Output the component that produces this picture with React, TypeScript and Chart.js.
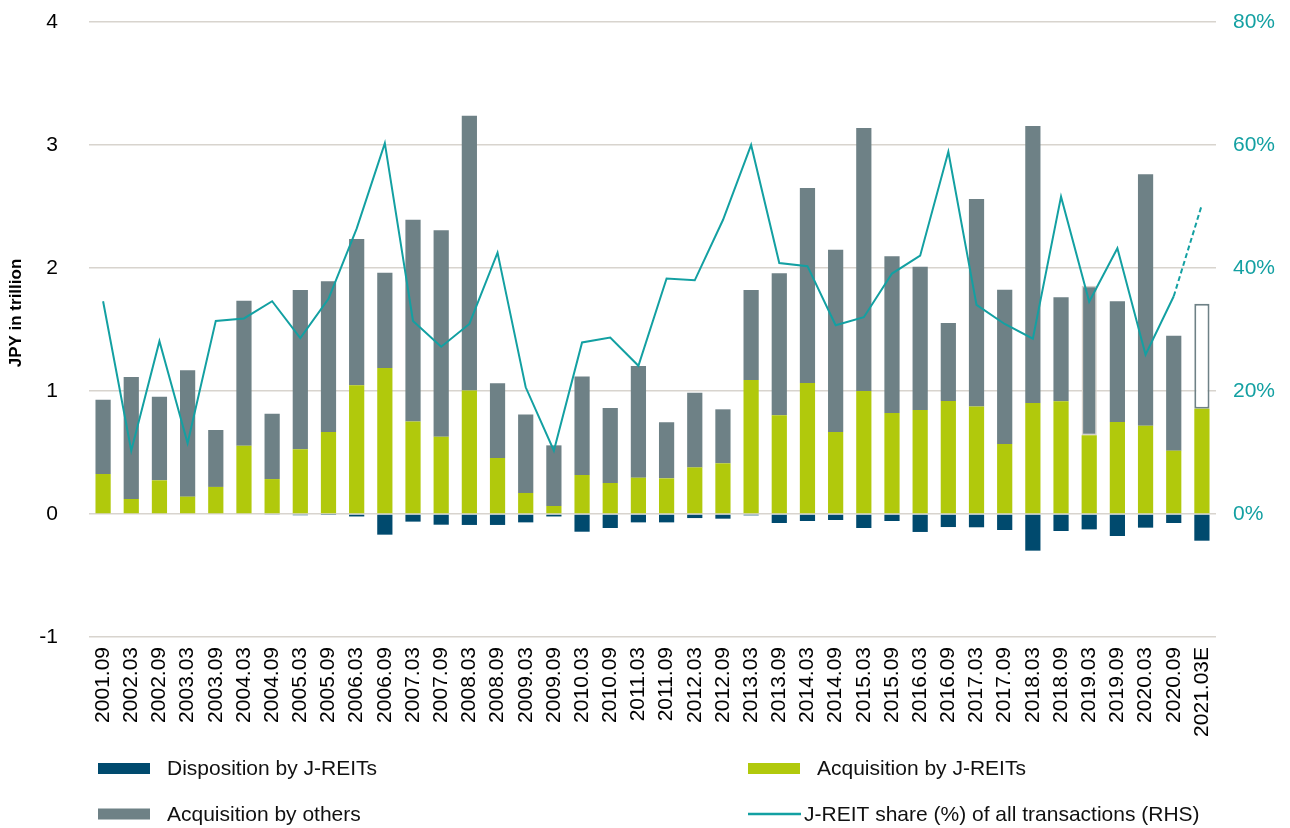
import React, { useEffect, useRef } from "react";
import { Chart, registerables } from "chart.js";

Chart.register(...registerables);

const categories = [
  "2001.09", "2002.03", "2002.09", "2003.03", "2003.09", "2004.03", "2004.09", "2005.03",
  "2005.09", "2006.03", "2006.09", "2007.03", "2007.09", "2008.03", "2008.09", "2009.03",
  "2009.09", "2010.03", "2010.09", "2011.03", "2011.09", "2012.03", "2012.09", "2013.03",
  "2013.09", "2014.03", "2014.09", "2015.03", "2015.09", "2016.03", "2016.09", "2017.03",
  "2017.09", "2018.03", "2018.09", "2019.03", "2019.09", "2020.03", "2020.09", "2021.03E",
];

// JPY trillion
const dispositionJREIT = [
  0, 0, 0, 0, 0, 0, -0.005, -0.01, -0.003, -0.02, -0.168, -0.062, -0.087, -0.089, -0.089, -0.068,
  -0.02, -0.144, -0.114, -0.068, -0.068, -0.033, -0.038, -0.011, -0.073, -0.057, -0.049, -0.114,
  -0.057, -0.146, -0.106, -0.108, -0.13, -0.298, -0.138, -0.125, -0.179, -0.111, -0.073, -0.217,
];

const acquisitionJREIT = [
  0.325, 0.122, 0.274, 0.141, 0.22, 0.555, 0.284, 0.526, 0.667, 1.046, 1.187, 0.753, 0.629, 1.005,
  0.455, 0.171, 0.065, 0.317, 0.252, 0.295, 0.29, 0.379, 0.412, 1.089, 0.802, 1.065, 0.667, 1.0,
  0.821, 0.846, 0.919, 0.873, 0.569, 0.902, 0.916, 0.64, 0.748, 0.718, 0.515, 0.856,
];

const acquisitionOthers = [
  0.604, 0.992, 0.68, 1.027, 0.463, 1.179, 0.532, 1.295, 1.225, 1.19, 0.775, 1.64, 1.677, 2.233,
  0.607, 0.637, 0.493, 0.8, 0.61, 0.908, 0.455, 0.607, 0.439, 0.732, 1.155, 1.585, 1.482, 2.138,
  1.274, 1.165, 0.634, 1.688, 1.255, 2.252, 0.846, 1.216, 0.981, 2.044, 0.935, 0.854,
];

// percent, right axis
const jreitShare = [
  34.6, 10.3, 28.1, 11.5, 31.4, 31.8, 34.6, 28.6, 35.0, 46.4, 60.3, 31.4, 27.2, 30.9, 42.5, 20.6,
  10.3, 27.9, 28.7, 24.1, 38.3, 38.0, 47.8, 60.0, 40.8, 40.3, 30.7, 32.0, 39.1, 42.0, 58.9, 34.0,
  30.9, 28.5, 51.6, 34.5, 43.2, 25.9, 35.4, 50.3,
];

const leftTickRange = { min: -1, max: 4, step: 1 };
const rightTickRange = { min: -20, max: 80, step: 20 };

const legendLabels = [
  "Disposition by J-REITs",
  "Acquisition by J-REITs",
  "Acquisition by others",
  "J-REIT share (%) of all transactions (RHS)",
];
const yTitle = "JPY in trillion";

const COL_DISP = "#004a6e";
const COL_ACQ = "#b1c90c";
const COL_OTH = "#6e8186";
const COL_LINE = "#13a0a2";
const COL_GRID = "#d8d4ce";
const FONT = '"Liberation Sans", Arial, Helvetica, sans-serif';

const W = 1290;
const H = 828;

export default function App() {
  const ref = useRef<HTMLCanvasElement | null>(null);

  useEffect(() => {
    if (!ref.current) return;
    const lastIdx = categories.length - 1;

    const othersBg = acquisitionOthers.map((_, i) => (i === lastIdx ? "#ffffff" : COL_OTH));
    const othersBorder = acquisitionOthers.map((_, i) =>
      i === lastIdx ? COL_OTH : i === 35 ? "#d6d1ca" : COL_OTH
    );
    const othersBorderW = acquisitionOthers.map((_, i) => (i === lastIdx ? 2 : i === 35 ? 1.5 : 0));

    const extras = {
      id: "extras",
      afterDraw(chart: any) {
        const ctx = chart.ctx as CanvasRenderingContext2D;
        ctx.save();
        ctx.translate(16, 313);
        ctx.rotate(-Math.PI / 2);
        ctx.font = `bold 17px ${FONT}`;
        ctx.fillStyle = "#000";
        ctx.textAlign = "center";
        ctx.textBaseline = "middle";
        ctx.fillText(yTitle, 0, 0);
        ctx.restore();

        ctx.save();
        ctx.font = `21px ${FONT}`;
        ctx.textBaseline = "middle";
        ctx.textAlign = "left";
        const r1 = 768.5;
        const r2 = 814;
        ctx.fillStyle = COL_DISP;
        ctx.fillRect(98, r1 - 5.5, 52, 11);
        ctx.fillStyle = COL_ACQ;
        ctx.fillRect(748, r1 - 5.5, 52, 11);
        ctx.fillStyle = COL_OTH;
        ctx.fillRect(98, r2 - 5.5, 52, 11);
        ctx.strokeStyle = COL_LINE;
        ctx.lineWidth = 2.5;
        ctx.beginPath();
        ctx.moveTo(748, r2);
        ctx.lineTo(801, r2);
        ctx.stroke();
        ctx.fillStyle = "#111";
        ctx.fillText(legendLabels[0], 167, r1 + 1);
        ctx.fillText(legendLabels[1], 817, r1 + 1);
        ctx.fillText(legendLabels[2], 167, r2 + 1);
        ctx.fillText(legendLabels[3], 804, r2 + 1);
        ctx.restore();
      },
    };

    const chart = new Chart(ref.current, {
      type: "bar",
      data: {
        labels: categories,
        datasets: [
          {
            type: "line",
            label: legendLabels[3],
            data: jreitShare,
            yAxisID: "y2",
            borderColor: COL_LINE,
            borderWidth: 2,
            pointRadius: 0,
            tension: 0,
            order: 0,
            segment: {
              borderDash: (c: any) => (c.p1DataIndex === lastIdx ? [5, 3] : undefined),
            },
          } as any,
          {
            label: legendLabels[0],
            data: dispositionJREIT,
            backgroundColor: COL_DISP,
            yAxisID: "y",
            order: 1,
          },
          {
            label: legendLabels[1],
            data: acquisitionJREIT,
            backgroundColor: COL_ACQ,
            yAxisID: "y",
            order: 1,
          },
          {
            label: legendLabels[2],
            data: acquisitionOthers,
            backgroundColor: othersBg,
            borderColor: othersBorder,
            borderWidth: othersBorderW,
            borderSkipped: false,
            yAxisID: "y",
            order: 1,
          },
        ],
      },
      options: {
        animation: false,
        responsive: false,
        maintainAspectRatio: false,
        datasets: {
          bar: { barPercentage: 0.54, categoryPercentage: 1.0 },
        },
        layout: { padding: { top: 22, left: 0, right: 0, bottom: 0 } },
        plugins: { legend: { display: false }, tooltip: { enabled: false }, title: { display: false } },
        scales: {
          x: {
            stacked: true,
            grid: { display: false, drawTicks: false },
            border: { display: false },
            ticks: {
              autoSkip: false,
              maxRotation: 90,
              minRotation: 90,
              padding: 10,
              color: "#000",
              font: { family: FONT, size: 21 },
            },
            afterFit(scale: any) {
              scale.height = H - 637;
            },
          },
          y: {
            position: "left",
            stacked: true,
            min: leftTickRange.min,
            max: leftTickRange.max,
            grid: { color: COL_GRID, lineWidth: 1.5, drawTicks: false },
            border: { display: false },
            ticks: {
              stepSize: leftTickRange.step,
              padding: 31,
              color: "#000",
              font: { family: FONT, size: 21 },
            },
            afterFit(scale: any) {
              scale.width = 89;
              scale.paddingTop = 8;
              scale.paddingBottom = 8;
            },
          },
          y2: {
            position: "right",
            stacked: false,
            min: rightTickRange.min,
            max: rightTickRange.max,
            grid: { display: false, drawTicks: false },
            border: { display: false },
            ticks: {
              stepSize: rightTickRange.step,
              padding: 17,
              color: COL_LINE,
              font: { family: FONT, size: 21 },
              callback: (v: any) => (Number(v) < 0 ? "" : `${v}%`),
            },
            afterFit(scale: any) {
              scale.width = W - 1216;
              scale.paddingTop = 8;
              scale.paddingBottom = 8;
            },
          },
        },
      },
      plugins: [extras],
    } as any);

    return () => chart.destroy();
  }, []);

  return (
    <div style={{ position: "absolute", left: 0, top: 0, width: W, height: H, background: "#fff" }}>
      <canvas ref={ref} width={W} height={H} style={{ display: "block", width: W, height: H }} />
    </div>
  );
}
